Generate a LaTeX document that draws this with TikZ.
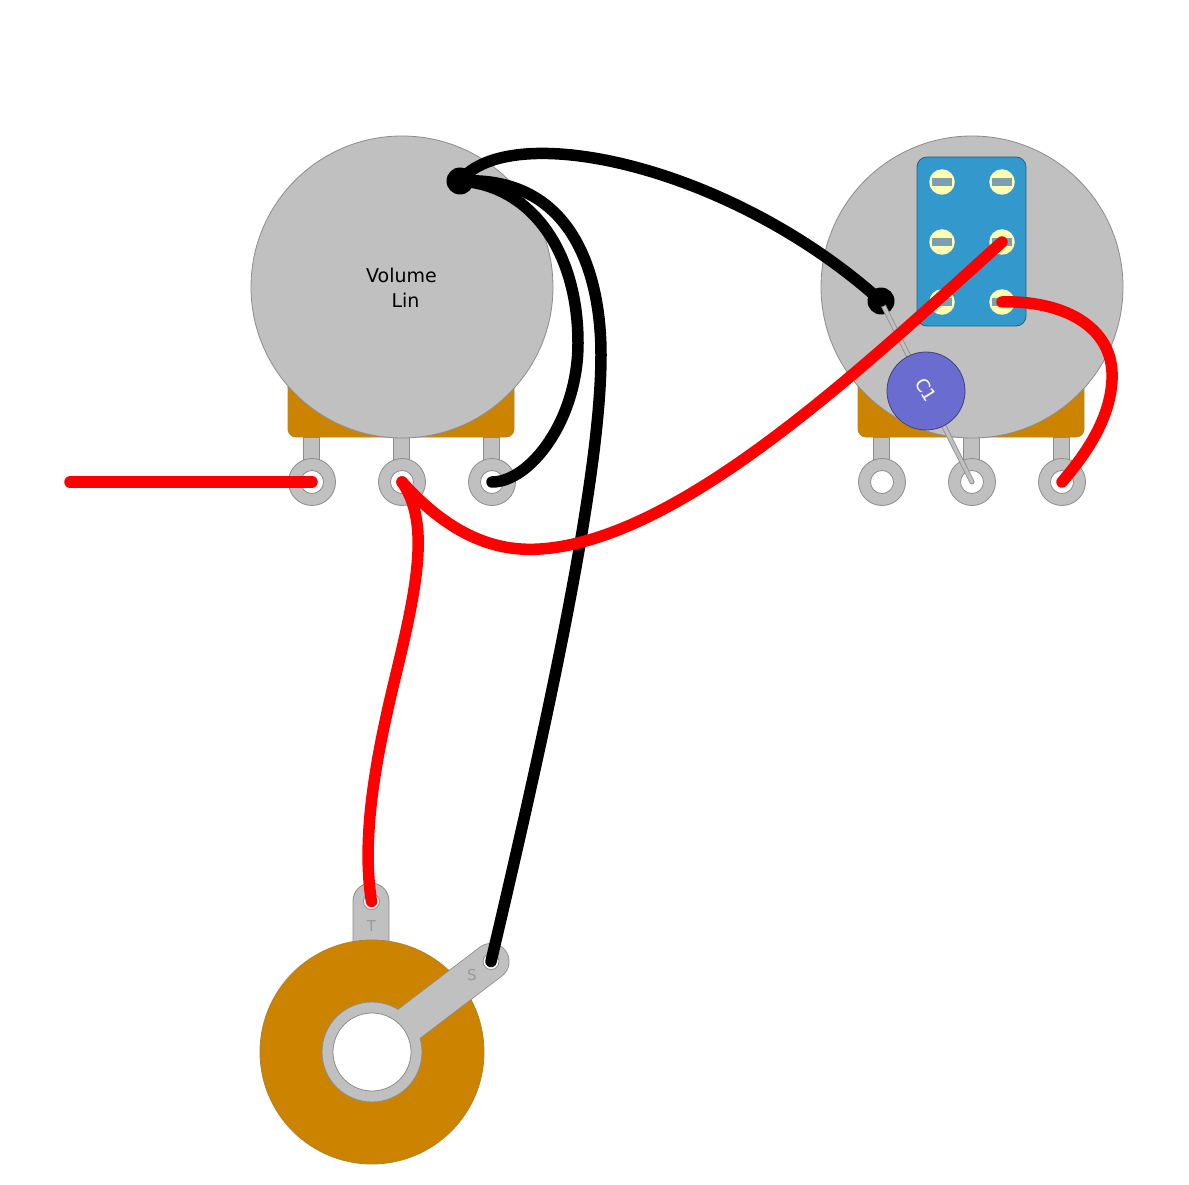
\documentclass[tikz,border=0pt]{standalone}
\usepackage{xcolor}
\usepackage{fontspec}
\setmainfont{DejaVu Sans}
\usetikzlibrary{positioning,calc}
\definecolor{potgray}{HTML}{C0C0C0}
\definecolor{rimgray}{HTML}{8C8C8C}
\definecolor{casebrown}{HTML}{CC8400}
\definecolor{switchblue}{HTML}{3399CC}
\definecolor{screwyellow}{HTML}{FFFFB0}
\definecolor{slotblue}{HTML}{7B9FB0}
\definecolor{capblue}{HTML}{6A6CCF}
\tikzset{
    metal/.style={draw=rimgray,fill=potgray,line width=0.8pt},
    casing/.style={draw=casebrown!65!gray,fill=casebrown,line width=0.8pt},
    lugring/.style={circle,metal,minimum size=47pt,inner sep=0pt,outer sep=0pt},
    lughole/.style={circle,draw=rimgray,fill=white,line width=0.8pt,minimum size=#1,inner sep=0pt,outer sep=0pt},
    screw/.style={circle,fill=screwyellow,minimum size=25.5pt,inner sep=0pt,outer sep=0pt},
    slot/.style={fill=slotblue,minimum width=19.5pt,minimum height=8pt,inner sep=0pt,outer sep=0pt},
    blackwire/.style={black,line width=11.5pt,line cap=round},
    redwire/.style={red,line width=11.5pt,line cap=round},
    joint/.style={circle,fill=black,minimum size=27pt,inner sep=0pt,outer sep=0pt},
    tabtext/.style={text=gray!80,font=\fontsize{15}{15}\selectfont}
}
\begin{document}
\begin{tikzpicture}[x=1pt,y=-1pt]
\useasboundingbox (0,0) rectangle (1189,1185);

% Pots
\foreach \p/\cx in {A/402,B/972} {
\begin{scope}[shift={(\cx,0)}]
\draw[casing,rounded corners=8pt] (-114,360) rectangle (112,437);
\foreach \i/\dx in {1/-90,2/0,3/90} {
    \draw[metal] (\dx-9,437) rectangle (\dx+7,462);
    \node[lugring] at (\dx,482) {};
    \node[lughole=23pt] (lug\p\i) at (\dx,482) {};
}
\node[circle,metal,minimum size=302pt,inner sep=0pt] (pot\p) at (0,287) {};
\end{scope}
}
\node[anchor=base,font=\fontsize{19}{19}\selectfont] (volText) at (401.5,282) {Volume};
\node[anchor=base,font=\fontsize{19}{19}\selectfont] (linText) at (405.5,307) {Lin};

% Switch
\draw[draw=switchblue!65!black,fill=switchblue,line width=0.8pt,rounded corners=10pt] (917,157) rectangle (1026,326);
\foreach \r/\sy in {1/182,2/242,3/302} {
    \foreach \c/\sx in {L/942,R/1002} {
        \node[screw] (screw\c\r) at (\sx,\sy) {};
        \node[slot] at (\sx,\sy) {};
    }
}

% Cap with its lead
\node[joint] (jointB) at (881,301) {};
\draw[rimgray,line width=5pt,line cap=round] (jointB.center) -- (lugB2.center);
\draw[potgray,line width=3.4pt,line cap=round] (jointB.center) -- (lugB2.center);
\node[circle,draw=capblue!60!black,fill=capblue,line width=0.8pt,minimum size=78pt,inner sep=0pt] (capC) at (926,391) {};
\node[rotate=-58,text=white,font=\fontsize{18}{18}\selectfont] (capText) at (926,390) {C1};

% Jack
\draw[metal] (353,950) -- (353,901) arc[start angle=180,end angle=360,radius=18] -- (389,950) -- cycle;
\node[lughole=16pt] (tipHole) at (371.5,901.5) {};
\node[tabtext] (tipText) at (371.5,926) {T};
\node[circle,casing,minimum size=224pt,inner sep=0pt] (jackBody) at (372,1052) {};
\coordinate (sleeveEnd) at (491,961.5);
\draw[rimgray,line width=37pt,line cap=round] (jackBody.center) -- (sleeveEnd);
\node[circle,metal,minimum size=100pt,inner sep=0pt] (jackRing) at (372,1052) {};
\draw[potgray,line width=35.4pt,line cap=round] (jackRing.center) -- (sleeveEnd);
\node[lughole=78pt] (jackHole) at (372,1052) {};
\node[lughole=16pt] (sleeveHole) at (sleeveEnd) {};
\node[tabtext] (sleeveText) at (472,975) {S};

% Black wires
\node[joint] (jointA) at (460,181) {};
\draw[blackwire] (jointA.center) .. controls (510,118) and (730,165) .. (jointB.center);
\draw[blackwire] (jointA.center) .. controls (530,185) and (578,250) .. (578,343) .. controls (578,420) and (530,482) .. (lugA3.center);
\draw[blackwire] (jointA.center) .. controls (570,175) and (601,270) .. (601,355) .. controls (601,470) and (555,690) .. (sleeveHole.center);

% Red wires
\coordinate (inputEnd) at (70,482);
\draw[redwire] (inputEnd) -- (lugA1.center);
\draw[redwire] (lugA2.center) .. controls (450,535) and (495,552) .. (540,549) .. controls (680,540) and (860,370) .. (screwR2.center);
\draw[redwire] (lugA2.center) .. controls (428,520) and (420,575) .. (397,670) .. controls (380,740) and (360,830) .. (tipHole.center);
\draw[redwire] (screwR3.center) .. controls (1060,300) and (1115,325) .. (1112,380) .. controls (1110,420) and (1085,455) .. (lugB3.center);
\end{tikzpicture}
\end{document}
